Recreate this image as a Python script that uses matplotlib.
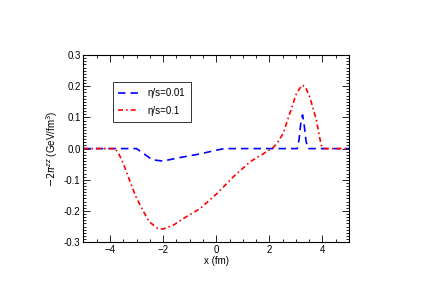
import matplotlib
matplotlib.use("Agg")
import matplotlib.pyplot as plt
from matplotlib.ticker import MultipleLocator, FormatStrFormatter

plt.rcParams['font.family'] = ['Liberation Sans', 'DejaVu Sans']

# eta/s = 0.01 (blue dashed)
x_blue = [-5.0, -3.0, -2.7, -2.4, -2.0, -1.5, -1.0, -0.6, -0.1, 0.3,
          3.05, 3.12, 3.18, 3.25, 3.32, 3.38, 3.45, 5.0]
y_blue = [0.0, 0.0, -0.018, -0.036, -0.040, -0.031, -0.023, -0.017, -0.007, 0.0,
          0.0, 0.03, 0.08, 0.108, 0.07, 0.025, 0.0, 0.0]

# eta/s = 0.1 (red dash-dot)
x_red = [-5.0, -3.8, -3.65, -3.5, -3.27, -3.02, -2.77, -2.52, -2.2, -2.0, -1.6,
         -1.23, -0.6, 0.03, 0.65, 1.28, 1.9, 2.15, 2.3, 2.52, 2.77, 3.02, 3.23,
         3.35, 3.52, 3.77, 3.95, 4.05, 5.0]
y_red = [0.0, 0.0, -0.02, -0.047, -0.10, -0.155, -0.197, -0.235, -0.256, -0.258, -0.245,
         -0.224, -0.192, -0.144, -0.090, -0.042, -0.010, 0.004, 0.018, 0.049, 0.113, 0.177, 0.204,
         0.198, 0.166, 0.091, 0.011, 0.0, 0.0]

labels = ['η/s=0.01', 'η/s=0.1']

fig = plt.figure(figsize=(4.32, 2.96), dpi=100)
ax = fig.add_axes([0.193, 0.182, 0.615, 0.632])

ax.plot(x_blue, y_blue, color='#0000ff', lw=1.2, linestyle=(0, (4.5, 3)), label=labels[0])
ax.plot(x_red, y_red, color='#ff0000', lw=1.2, linestyle=(0, (3, 1.8, 1.0, 1.8)), label=labels[1])

ax.set_xlim(-5, 5)
ax.set_ylim(-0.3, 0.3)
ax.xaxis.set_major_locator(MultipleLocator(2))
ax.xaxis.set_minor_locator(MultipleLocator(0.5))
ax.yaxis.set_major_locator(MultipleLocator(0.1))
ax.yaxis.set_minor_locator(MultipleLocator(0.01))
ax.yaxis.set_major_formatter(FormatStrFormatter('%.1f'))
ax.tick_params(which='both', direction='in', top=True, right=True, labelsize=7, pad=2, width=0.6)
ax.tick_params(which='major', length=5)
ax.tick_params(which='minor', length=2.5)
for s in ax.spines.values():
    s.set_linewidth(0.8)

ax.set_xlabel('x (fm)', fontsize=7, labelpad=1)
ax.set_ylabel(r'$-2\pi^{zz}$ (GeV/fm$^3$)', fontsize=7, labelpad=3)

leg = ax.legend(loc='upper left', bbox_to_anchor=(0.11, 0.855), fontsize=7,
                frameon=True, fancybox=False, edgecolor='black', handlelength=2.0,
                handletextpad=1.0, borderpad=0.6, labelspacing=0.8, borderaxespad=0)
leg.get_frame().set_linewidth(0.7)

fig.savefig('out.png', dpi=100)
